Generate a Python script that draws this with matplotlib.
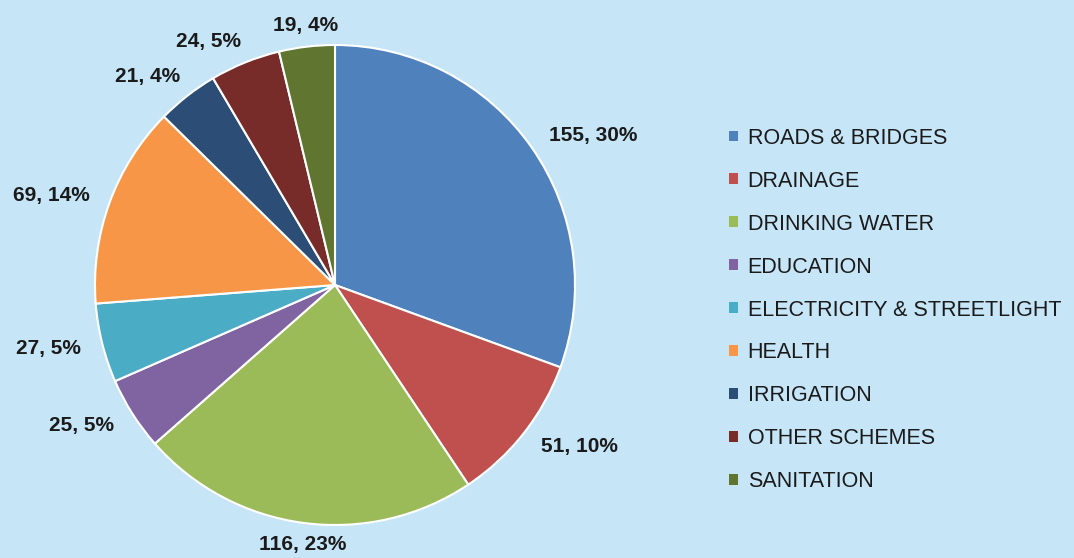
import numpy as np
import matplotlib.pyplot as plt
from matplotlib.patches import Patch

categories = ["ROADS & BRIDGES", "DRAINAGE", "DRINKING WATER", "EDUCATION",
              "ELECTRICITY & STREETLIGHT", "HEALTH", "IRRIGATION",
              "OTHER SCHEMES", "SANITATION"]
counts = [155, 51, 116, 25, 27, 69, 21, 24, 19]
percents = [30, 10, 23, 5, 5, 14, 4, 5, 4]
colors = ["#4F81BD", "#C0504D", "#9BBB59", "#8064A2", "#4BACC6",
          "#F79646", "#2C4D75", "#772C2A", "#5F7530"]

bg = "#C6E5F7"
plt.rcParams['font.family'] = ['Liberation Sans', 'DejaVu Sans']

fig = plt.figure(figsize=(10.74, 5.58), dpi=100, facecolor=bg)
ax = fig.add_axes([95 / 1074, 33 / 558, 480 / 1074, 480 / 558])
ax.set_facecolor(bg)

wedges, _ = ax.pie(counts, colors=colors, startangle=90, counterclock=False,
                   radius=1, wedgeprops=dict(edgecolor="white", linewidth=1.5))
ax.set_xlim(-1, 1)
ax.set_ylim(-1, 1)
ax.set_aspect("equal")
ax.axis("off")

# data labels outside the wedges
for w, c, p in zip(wedges, counts, percents):
    ang = np.deg2rad((w.theta1 + w.theta2) / 2)
    cx, sy = np.cos(ang), np.sin(ang)
    ha = "left" if cx > 0.25 else ("right" if cx < -0.25 else "center")
    va = "bottom" if sy > 0.7 else ("top" if sy < -0.7 else "center")
    d = 1.09 if va == "center" else 1.05
    ax.text(d * cx, d * sy, f"{c}, {p}%", ha=ha, va=va, fontsize=15,
            fontweight="bold", color="#1a1a1a")

handles = [Patch(facecolor=col, edgecolor="none") for col in colors]
leg = fig.legend(handles, categories, loc="center left",
                 bbox_to_anchor=(710 / 1074, 1 - 310 / 558), frameon=False,
                 handlelength=0.4, handleheight=0.4, handletextpad=0.45,
                 labelspacing=1.02, fontsize=15.5)
for t in leg.get_texts():
    t.set_color("#1a1a1a")

fig.savefig("out.png", dpi=100, facecolor=bg)
